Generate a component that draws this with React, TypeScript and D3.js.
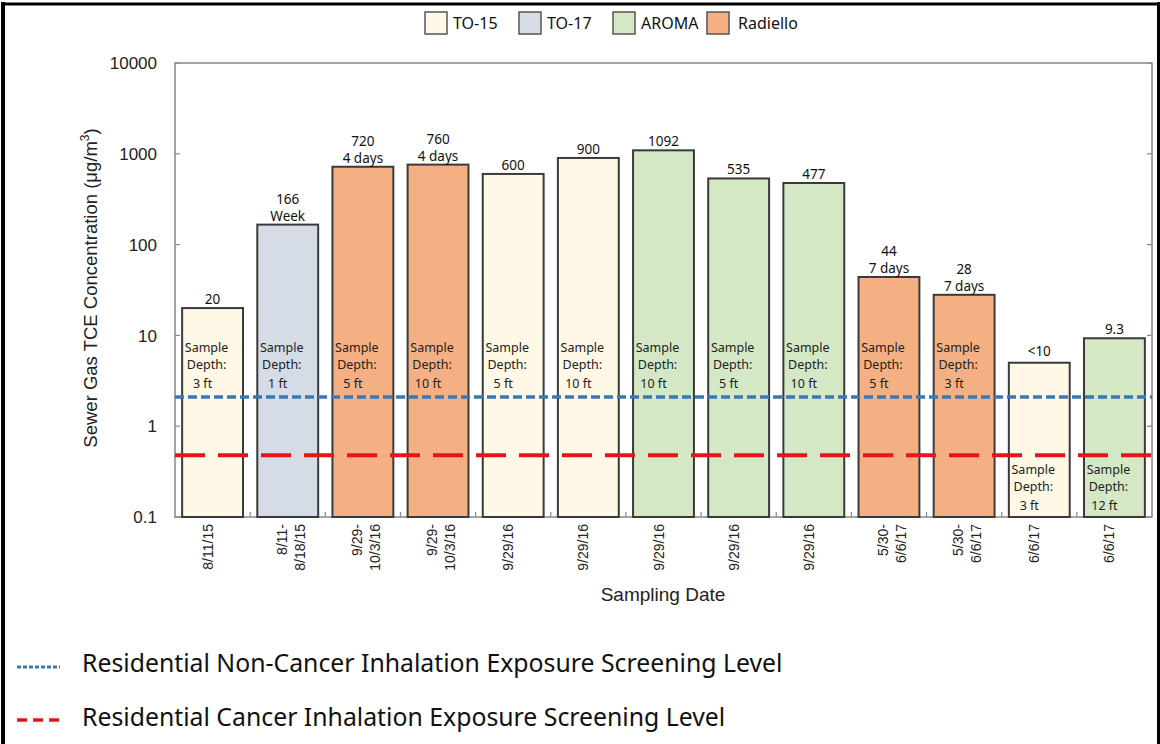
import React from 'react';
import * as d3 from 'd3';

const dates: string[][] = [
  ['8/11/15'], ['8/11-', '8/18/15'], ['9/29-', '10/3/16'], ['9/29-', '10/3/16'],
  ['9/29/16'], ['9/29/16'], ['9/29/16'], ['9/29/16'], ['9/29/16'],
  ['5/30-', '6/6/17'], ['5/30-', '6/6/17'], ['6/6/17'], ['6/6/17'],
];
const methods = ['TO-15', 'TO-17', 'Radiello', 'Radiello', 'TO-15', 'TO-15', 'AROMA', 'AROMA', 'AROMA', 'Radiello', 'Radiello', 'TO-15', 'AROMA'];
const values = [20, 166, 720, 760, 600, 900, 1092, 535, 477, 44, 28, 5, 9.3];
const valueLabels: string[][] = [
  ['20'], ['166', 'Week'], ['720', '4 days'], ['760', '4 days'], ['600'], ['900'], ['1092'],
  ['535'], ['477'], ['44', '7 days'], ['28', '7 days'], ['<10'], ['9.3'],
];
const depths = ['3 ft', '1 ft', '5 ft', '10 ft', '5 ft', '10 ft', '10 ft', '5 ft', '10 ft', '5 ft', '3 ft', '3 ft', '12 ft'];
const legendMethods = ['TO-15', 'TO-17', 'AROMA', 'Radiello'];
const methodColors = ['#FFF8E6', '#D5DCE6', '#D4E8C6', '#F4B083'];
const yTicks = [0.1, 1, 10, 100, 1000, 10000];
const nonCancerLevel = 2.1;
const cancerLevel = 0.48;
const levelLabels = [
  'Residential Non-Cancer Inhalation Exposure Screening Level',
  'Residential Cancer Inhalation Exposure Screening Level',
];

const W = 1160, H = 744;
const left = 175, right = 1152, top = 63, bottom = 517;
const calibri = '"Noto Sans", "Open Sans", sans-serif';
const arial = '"Liberation Sans", Arial, sans-serif';

export default function App() {
  const idx = values.map((_, i) => String(i));
  const x = d3.scaleBand<string>().domain(idx).range([left, right]).paddingInner(0.19).paddingOuter(0.095);
  const y = d3.scaleLog().domain([0.1, 10000]).range([bottom, top]);
  const color = d3.scaleOrdinal<string, string>().domain(legendMethods).range(methodColors);
  const step = x.step();
  const bw = x.bandwidth();

  return (
    <div style={{ position: 'fixed', left: 0, top: 0 }}>
      <svg width={W} height={H} viewBox={`0 0 ${W} ${H}`} style={{ display: 'block', background: '#fff' }}>
        {/* outer frame */}
        <line x1={3} x2={3} y1={2} y2={H} stroke="#000" strokeWidth={4} />
        <line x1={1} x2={1160} y1={4} y2={4} stroke="#000" strokeWidth={3} />
        <line x1={1158.5} x2={1158.5} y1={2} y2={H} stroke="#000" strokeWidth={3} />

        {/* top legend */}
        {legendMethods.map((m, i) => (
          <g key={m} transform={`translate(${425 + i * 94},12)`}>
            <rect x={0} y={0} width={22} height={22} fill={color(m)} stroke="#555" strokeWidth={1.5} />
            <text x={i === 3 ? 31 : 28} y={17} fontFamily={calibri} fontSize={16} fill="#111">{m}</text>
          </g>
        ))}

        {/* plot box */}
        <rect x={left} y={top} width={right - left} height={bottom - top} fill="none" stroke="#888" strokeWidth={1.5} />

        {/* y ticks */}
        {yTicks.map(t => (
          <g key={t}>
            <line x1={left} x2={left + 5} y1={y(t)} y2={y(t)} stroke="#888" strokeWidth={1.2} />
            <line x1={right - 5} x2={right} y1={y(t)} y2={y(t)} stroke="#888" strokeWidth={1.2} />
            <text x={157} y={y(t)} dy="0.36em" textAnchor="end" fontFamily={arial} fontSize={17} fill="#222">
              {String(t)}
            </text>
          </g>
        ))}

        {/* bars */}
        {values.map((v, i) => (
          <rect key={i} x={x(String(i))} y={y(v)} width={bw} height={bottom - y(v)}
            fill={color(methods[i])} stroke="#3a3a3a" strokeWidth={2} />
        ))}

        {/* bottom ticks between bars */}
        {d3.range(1, values.length).map(k => (
          <line key={k} x1={left + k * step} x2={left + k * step} y1={bottom} y2={bottom - 5} stroke="#888" strokeWidth={1.2} />
        ))}

        {/* sample depth labels */}
        {values.map((v, i) => {
          const bx = (x(String(i)) as number) + bw / 2 - 6;
          const base = v >= 10 ? 352 : 474;
          return (
            <text key={i} fontFamily={calibri} fontSize={12.5} fill="#222" textAnchor="middle">
              <tspan x={bx} y={base}>Sample</tspan>
              <tspan x={bx} y={base + 17}>Depth:</tspan>
              <tspan x={bx - 4} y={base + 36}>{depths[i]}</tspan>
            </text>
          );
        })}

        {/* screening levels */}
        <line x1={left} x2={right} y1={y(nonCancerLevel)} y2={y(nonCancerLevel)} stroke="#3A78B5" strokeWidth={3.5} strokeDasharray="9 4" />
        <line x1={left} x2={right} y1={y(cancerLevel)} y2={y(cancerLevel)} stroke="#E8141B" strokeWidth={4} strokeDasharray="30 13" />

        {/* value labels */}
        {values.map((v, i) => {
          const cx = (x(String(i)) as number) + bw / 2;
          const lines = valueLabels[i];
          const lastBase = y(v) - (lines[0].startsWith('<') ? 7 : 4);
          return (
            <text key={i} fontFamily={calibri} fontSize={13.5} fill="#111" textAnchor="middle">
              {lines.map((l, j) => (
                <tspan key={j} x={cx} y={lastBase - (lines.length - 1 - j) * 16.5}>{l}</tspan>
              ))}
            </text>
          );
        })}

        {/* x tick labels */}
        {dates.map((d, i) => {
          const cx = (x(String(i)) as number) + bw / 2;
          const offs = d.length === 1 ? [-5] : [-6, 12];
          return (
            <g key={i}>
              {d.map((l, j) => (
                <text key={j} transform={`translate(${cx + offs[j]},524) rotate(-90)`} dy="0.36em" textAnchor="end"
                  fontFamily={arial} fontSize={14} fill="#222">{l}</text>
              ))}
            </g>
          );
        })}

        {/* axis titles */}
        <text x={663} y={601} textAnchor="middle" fontFamily={arial} fontSize={19} fill="#222">Sampling Date</text>
        <text transform="translate(97,288) rotate(-90)" textAnchor="middle" fontFamily={arial} fontSize={18.5} fill="#222">
          Sewer Gas TCE Concentration (μg/m<tspan fontSize={12} dy={-8}>3</tspan><tspan dy={8}>)</tspan>
        </text>

        {/* bottom legend */}
        <line x1={17} x2={60} y1={667} y2={667} stroke="#3A78B5" strokeWidth={3} strokeDasharray="4 2" />
        <text x={82} y={672} fontFamily={calibri} fontSize={24.8} fill="#111">{levelLabels[0]}</text>
        <line x1={17} x2={65} y1={720} y2={720} stroke="#E8141B" strokeWidth={3.5} strokeDasharray="10 6" />
        <text x={82} y={726} fontFamily={calibri} fontSize={24.8} fill="#111">{levelLabels[1]}</text>
      </svg>
    </div>
  );
}
